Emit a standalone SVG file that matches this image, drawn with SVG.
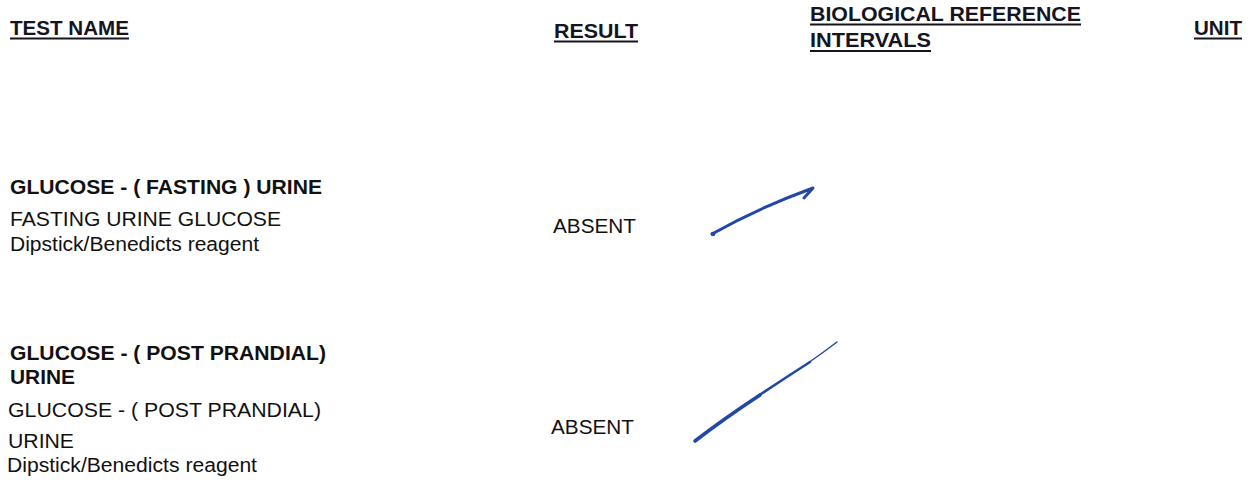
<svg xmlns="http://www.w3.org/2000/svg" width="1260" height="482" viewBox="0 0 1260 482">
<style>
.h{font-family:"Liberation Sans",Arial,sans-serif;font-weight:bold;font-size:21px;fill:#15151f}
.b{font-family:"Liberation Sans",Arial,sans-serif;font-weight:bold;font-size:19.5px;fill:#111}
.n{font-family:"Liberation Sans",Arial,sans-serif;font-size:20px;fill:#111}
.u{stroke:#15151f;stroke-width:2}
.pen{fill:none;stroke:#2248a6;stroke-linecap:round;stroke-linejoin:round}
</style>
<rect width="1260" height="482" fill="#fff"/>
<g id="header">
<text class="h" x="10" y="35" textLength="119" lengthAdjust="spacingAndGlyphs">TEST NAME</text>
<line class="u" x1="10" y1="38.5" x2="129" y2="38.5"/>
<text class="h" x="554" y="38" textLength="84" lengthAdjust="spacingAndGlyphs">RESULT</text>
<line class="u" x1="554" y1="41.5" x2="638" y2="41.5"/>
<text class="h" x="810" y="21" textLength="271" lengthAdjust="spacingAndGlyphs">BIOLOGICAL REFERENCE</text>
<line class="u" x1="810" y1="24.5" x2="1081" y2="24.5"/>
<text class="h" x="810" y="47" textLength="121" lengthAdjust="spacingAndGlyphs">INTERVALS</text>
<line class="u" x1="810" y1="51" x2="931" y2="51"/>
<text class="h" x="1194" y="35" textLength="48" lengthAdjust="spacingAndGlyphs">UNIT</text>
<line class="u" x1="1194" y1="38.5" x2="1242" y2="38.5"/>
</g>
<g id="row-fasting">
<text class="b" x="10" y="194" textLength="312" lengthAdjust="spacingAndGlyphs">GLUCOSE - ( FASTING ) URINE</text>
<text class="n" x="10" y="226" textLength="271" lengthAdjust="spacingAndGlyphs">FASTING URINE GLUCOSE</text>
<text class="n" x="10" y="251" textLength="249" lengthAdjust="spacingAndGlyphs">Dipstick/Benedicts reagent</text>
<text class="n" x="553" y="233" textLength="83" lengthAdjust="spacingAndGlyphs">ABSENT</text>
</g>
<g id="row-pp">
<text class="b" x="10" y="360" textLength="316" lengthAdjust="spacingAndGlyphs">GLUCOSE - ( POST PRANDIAL)</text>
<text class="b" x="10" y="384" textLength="65" lengthAdjust="spacingAndGlyphs">URINE</text>
<text class="n" x="8" y="417" textLength="313" lengthAdjust="spacingAndGlyphs">GLUCOSE - ( POST PRANDIAL)</text>
<text class="n" x="8" y="448" textLength="66" lengthAdjust="spacingAndGlyphs">URINE</text>
<text class="n" x="7" y="472" textLength="250" lengthAdjust="spacingAndGlyphs">Dipstick/Benedicts reagent</text>
<text class="n" x="551" y="434" textLength="83" lengthAdjust="spacingAndGlyphs">ABSENT</text>
</g>
<g id="pen-marks">
<circle cx="713" cy="234" r="2.3" fill="#2248a6"/>
<path class="pen" stroke-width="3" d="M712 234 Q758 208 813 188 L804 198"/>
<path class="pen" stroke-width="3.6" d="M695 441 Q725 418 760 395"/>
<path class="pen" stroke-width="2.6" d="M758 396 Q785 378 810 362"/>
<path class="pen" stroke-width="1.5" d="M808 363 Q824 352 837 342"/>
</g>
</svg>
